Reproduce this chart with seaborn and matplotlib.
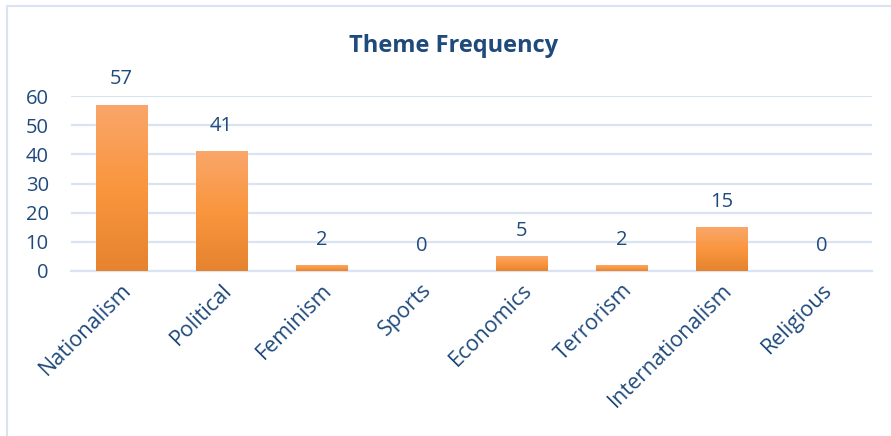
import numpy as np
import pandas as pd
import matplotlib.pyplot as plt
import matplotlib.lines as mlines
from matplotlib.colors import LinearSegmentedColormap
import seaborn as sns

themes = ['Nationalism', 'Political', 'Feminism', 'Sports', 'Economics',
          'Terrorism', 'Internationalism', 'Religious']
counts = [57, 41, 2, 0, 5, 2, 15, 0]
y_ticks = [0, 10, 20, 30, 40, 50, 60]

df = pd.DataFrame({'Theme': themes, 'Count': counts})

sns.set_theme(style='white')
plt.rcParams['font.family'] = ['Open Sans', 'DejaVu Sans']

text_color = '#1F4A7C'
grid_color = '#D9E3F1'

fig = plt.figure(figsize=(8.91, 4.36), dpi=100)
ax = fig.add_axes([71 / 891, 1 - 271 / 436, 801 / 891, 175 / 436])

sns.barplot(data=df, x='Theme', y='Count', color='#F79646', width=0.51,
            saturation=1, ax=ax, zorder=2)

ax.set_ylim(0, 60)
ax.set_xlim(-0.5, len(themes) - 0.5)
ax.set_yticks(y_ticks)
ax.yaxis.grid(True, color=grid_color, linewidth=1.6)
ax.set_axisbelow(True)
for side in ['top', 'right', 'left']:
    ax.spines[side].set_visible(False)
ax.spines['bottom'].set_color(grid_color)
ax.spines['bottom'].set_linewidth(1.6)
ax.set_xlabel('')
ax.set_ylabel('')
ax.tick_params(axis='y', labelsize=14.5, labelcolor=text_color, pad=16, length=0)
ax.tick_params(axis='x', labelsize=15.5, labelcolor=text_color, pad=6, length=0)
plt.setp(ax.get_xticklabels(), rotation=45, ha='right', rotation_mode='anchor')

# gradient fill on each bar
grad = LinearSegmentedColormap.from_list('g', ['#E5832F', '#FA963E', '#F9A66A'])
for p in ax.patches:
    h = p.get_height()
    if h <= 0:
        continue
    x0 = p.get_x()
    w = p.get_width()
    img = ax.imshow(np.linspace(0, 1, 100).reshape(-1, 1), cmap=grad,
                    origin='lower', aspect='auto',
                    extent=[x0, x0 + w, 0, h], zorder=3)
    img.set_clip_path(p)
ax.set_xlim(-0.5, len(themes) - 0.5)
ax.set_ylim(0, 60)

for i, v in enumerate(counts):
    ax.annotate(str(v), (i, v), xytext=(0, 11), textcoords='offset points',
                ha='center', va='bottom', fontsize=14.5, color=text_color)

fig.text(454 / 891, 1 - 46 / 436, 'Theme Frequency', ha='center', va='center',
         fontsize=17, fontweight='bold', color=text_color)

# chart frame
fig.add_artist(mlines.Line2D([7 / 891, 7 / 891], [0, 1 - 6 / 436],
                             color=grid_color, linewidth=1.5))
fig.add_artist(mlines.Line2D([7 / 891, 1], [1 - 6 / 436, 1 - 6 / 436],
                             color=grid_color, linewidth=1.5))

fig.savefig('out.png', dpi=100)
